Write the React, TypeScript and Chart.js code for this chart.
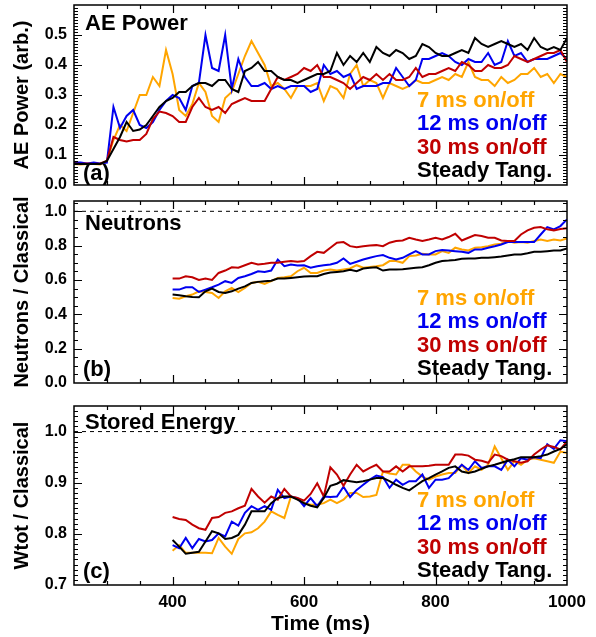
import React, { useEffect, useRef } from "react";
import { Chart, registerables } from "chart.js";

Chart.register(...registerables);

const FONT = "'Liberation Sans', Arial, Helvetica, sans-serif";
const PAGE_W = 596;
const PAGE_H = 637;
const OVER = 20;

// ---------- legend / series ----------
const seriesLabels = ["7 ms on/off", "12 ms on/off", "30 ms on/off", "Steady Tang."];
const seriesColors = ["#FFA500", "#0000F0", "#C00000", "#000000"];

// ---------- tick labels ----------
const xRange = [250, 1000];
const xTickValues = [400, 600, 800, 1000];
const aeTicks = [0, 0.1, 0.2, 0.3, 0.4, 0.5];
const neutTicks = [0, 0.2, 0.4, 0.6, 0.8, 1.0];
const wtotTicks = [0.7, 0.8, 0.9, 1.0];

// ---------- panel (a): AE power ----------
const aeTime = [
  250, 260, 270, 280, 290, 300, 310, 320, 330, 340,
  350, 360, 370, 380, 390, 400, 410, 420, 430, 440,
  450, 460, 470, 480, 490, 500, 510, 520, 530, 540,
  550, 560, 570, 580, 590, 600, 610, 620, 630, 640,
  650, 660, 670, 680, 690, 700, 710, 720, 730, 740,
  750, 760, 770, 780, 790, 800, 810, 820, 830, 840,
  850, 860, 870, 880, 890, 900, 910, 920, 930, 940,
  950, 960, 970, 980, 990, 1000,
];
const ae7 = [
  0.070, 0.068, 0.070, 0.070, 0.068, 0.080, 0.150, 0.200, 0.180, 0.240,
  0.300, 0.300, 0.360, 0.330, 0.450, 0.370, 0.250, 0.230, 0.270, 0.340,
  0.310, 0.230, 0.210, 0.290, 0.310, 0.370, 0.430, 0.480, 0.440, 0.400,
  0.330, 0.340, 0.320, 0.290, 0.330, 0.330, 0.330, 0.340, 0.280, 0.330,
  0.320, 0.290, 0.370, 0.400, 0.330, 0.350, 0.340, 0.290, 0.340, 0.330,
  0.320, 0.330, 0.350, 0.340, 0.340, 0.350, 0.360, 0.350, 0.370, 0.360,
  0.410, 0.360, 0.350, 0.350, 0.330, 0.360, 0.340, 0.350, 0.370, 0.370,
  0.390, 0.360, 0.370, 0.340, 0.370, 0.360,
];
const ae12 = [
  0.075, 0.075, 0.072, 0.075, 0.072, 0.075, 0.260, 0.190, 0.230, 0.250,
  0.200, 0.190, 0.210, 0.250, 0.280, 0.300, 0.290, 0.250, 0.330, 0.340,
  0.500, 0.390, 0.380, 0.500, 0.320, 0.420, 0.360, 0.330, 0.330, 0.340,
  0.320, 0.330, 0.320, 0.330, 0.330, 0.330, 0.310, 0.320, 0.400, 0.370,
  0.380, 0.360, 0.370, 0.320, 0.330, 0.330, 0.330, 0.340, 0.340, 0.390,
  0.360, 0.330, 0.350, 0.420, 0.420, 0.430, 0.440, 0.430, 0.410, 0.400,
  0.420, 0.410, 0.410, 0.440, 0.400, 0.410, 0.480, 0.430, 0.440, 0.410,
  0.420, 0.420, 0.420, 0.430, 0.440, 0.420,
];
const ae30 = [
  0.072, 0.070, 0.072, 0.070, 0.072, 0.080, 0.160, 0.150, 0.145, 0.150,
  0.150, 0.170, 0.220, 0.245, 0.240, 0.230, 0.210, 0.210, 0.260, 0.290,
  0.260, 0.250, 0.260, 0.240, 0.270, 0.280, 0.290, 0.280, 0.280, 0.280,
  0.320, 0.360, 0.350, 0.360, 0.370, 0.390, 0.380, 0.400, 0.360, 0.360,
  0.350, 0.340, 0.320, 0.340, 0.360, 0.350, 0.370, 0.350, 0.370, 0.350,
  0.350, 0.360, 0.390, 0.360, 0.370, 0.370, 0.380, 0.390, 0.380, 0.410,
  0.400, 0.380, 0.380, 0.400, 0.390, 0.390, 0.400, 0.430, 0.420, 0.410,
  0.420, 0.430, 0.440, 0.440, 0.450, 0.410,
];
const aeSteady = [
  0.072, 0.070, 0.070, 0.070, 0.070, 0.080, 0.120, 0.160, 0.210, 0.180,
  0.185, 0.200, 0.230, 0.260, 0.280, 0.290, 0.310, 0.310, 0.330, 0.340,
  0.340, 0.330, 0.350, 0.350, 0.320, 0.310, 0.380, 0.390, 0.410, 0.380,
  0.380, 0.360, 0.350, 0.350, 0.340, 0.350, 0.360, 0.370, 0.370, 0.380,
  0.440, 0.400, 0.430, 0.410, 0.440, 0.410, 0.460, 0.440, 0.430, 0.450,
  0.440, 0.420, 0.430, 0.470, 0.460, 0.440, 0.430, 0.430, 0.440, 0.450,
  0.440, 0.490, 0.470, 0.460, 0.470, 0.480, 0.470, 0.460, 0.470, 0.450,
  0.490, 0.460, 0.450, 0.460, 0.450, 0.490,
];

// ---------- panels (b) and (c): shared time base ----------
const profTime = [
  400, 410, 420, 430, 440, 450, 460, 470, 480, 490,
  500, 510, 520, 530, 540, 550, 560, 570, 580, 590,
  600, 610, 620, 630, 640, 650, 660, 670, 680, 690,
  700, 710, 720, 730, 740, 750, 760, 770, 780, 790,
  800, 810, 820, 830, 840, 850, 860, 870, 880, 890,
  900, 910, 920, 930, 940, 950, 960, 970, 980, 990,
  1000,
];

// panel (b): neutrons / classical
const neut7 = [
  0.495, 0.491, 0.505, 0.515, 0.534, 0.530, 0.524, 0.495, 0.534, 0.554,
  0.530, 0.554, 0.583, 0.589, 0.577, 0.593, 0.612, 0.616, 0.622, 0.651,
  0.671, 0.641, 0.641, 0.655, 0.661, 0.655, 0.661, 0.667, 0.686, 0.671,
  0.675, 0.680, 0.686, 0.710, 0.710, 0.700, 0.739, 0.743, 0.752, 0.749,
  0.749, 0.768, 0.758, 0.788, 0.778, 0.772, 0.788, 0.791, 0.797, 0.807,
  0.811, 0.827, 0.817, 0.821, 0.817, 0.827, 0.836, 0.827, 0.836, 0.830,
  0.842,
];
const neut12 = [
  0.544, 0.544, 0.558, 0.558, 0.530, 0.544, 0.558, 0.573, 0.593, 0.583,
  0.612, 0.622, 0.635, 0.651, 0.647, 0.655, 0.719, 0.680, 0.690, 0.684,
  0.686, 0.671, 0.680, 0.686, 0.690, 0.700, 0.725, 0.694, 0.706, 0.719,
  0.729, 0.739, 0.745, 0.729, 0.719, 0.729, 0.749, 0.768, 0.749, 0.749,
  0.768, 0.774, 0.772, 0.768, 0.764, 0.758, 0.778, 0.778, 0.788, 0.797,
  0.807, 0.821, 0.821, 0.821, 0.821, 0.821, 0.865, 0.908, 0.895, 0.914,
  0.953,
];
const neut30 = [
  0.608, 0.608, 0.622, 0.616, 0.600, 0.608, 0.600, 0.641, 0.655, 0.674,
  0.671, 0.686, 0.700, 0.690, 0.694, 0.700, 0.700, 0.706, 0.710, 0.706,
  0.710, 0.739, 0.764, 0.758, 0.788, 0.817, 0.821, 0.797, 0.791, 0.797,
  0.801, 0.803, 0.797, 0.817, 0.827, 0.830, 0.846, 0.836, 0.827, 0.836,
  0.846, 0.836, 0.850, 0.869, 0.830, 0.846, 0.862, 0.856, 0.846, 0.846,
  0.830, 0.827, 0.827, 0.865, 0.889, 0.904, 0.908, 0.895, 0.889, 0.897,
  0.901,
];
const neutSteady = [
  0.515, 0.511, 0.505, 0.501, 0.499, 0.534, 0.550, 0.530, 0.524, 0.534,
  0.550, 0.563, 0.583, 0.589, 0.593, 0.596, 0.608, 0.608, 0.612, 0.616,
  0.620, 0.622, 0.622, 0.635, 0.643, 0.647, 0.651, 0.659, 0.651, 0.667,
  0.671, 0.674, 0.655, 0.661, 0.661, 0.663, 0.667, 0.671, 0.674, 0.686,
  0.700, 0.710, 0.713, 0.717, 0.723, 0.725, 0.725, 0.729, 0.729, 0.733,
  0.737, 0.743, 0.749, 0.749, 0.756, 0.764, 0.764, 0.768, 0.772, 0.772,
  0.784,
];

// panel (c): Wtot / classical
const wtot7 = [
  0.767, 0.778, 0.763, 0.763, 0.763, 0.763, 0.762, 0.792, 0.775, 0.761,
  0.790, 0.801, 0.803, 0.811, 0.824, 0.844, 0.837, 0.831, 0.873, 0.868,
  0.860, 0.857, 0.857, 0.860, 0.867, 0.860, 0.867, 0.880, 0.880, 0.872,
  0.873, 0.876, 0.922, 0.918, 0.916, 0.935, 0.935, 0.922, 0.912, 0.906,
  0.912, 0.916, 0.919, 0.919, 0.935, 0.919, 0.932, 0.925, 0.935, 0.971,
  0.948, 0.925, 0.942, 0.935, 0.945, 0.948, 0.945, 0.942, 0.939, 0.961,
  0.958,
];
const wtot12 = [
  0.778, 0.772, 0.792, 0.772, 0.790, 0.785, 0.788, 0.801, 0.795, 0.824,
  0.816, 0.841, 0.854, 0.847, 0.854, 0.847, 0.886, 0.870, 0.873, 0.870,
  0.854, 0.870, 0.854, 0.873, 0.872, 0.873, 0.892, 0.872, 0.886, 0.896,
  0.906, 0.914, 0.911, 0.890, 0.906, 0.896, 0.903, 0.903, 0.916, 0.890,
  0.906, 0.906, 0.909, 0.922, 0.935, 0.925, 0.942, 0.929, 0.932, 0.932,
  0.925, 0.945, 0.932, 0.948, 0.945, 0.950, 0.948, 0.975, 0.966, 0.983,
  0.981,
];
const wtot30 = [
  0.833, 0.829, 0.827, 0.818, 0.811, 0.808, 0.831, 0.833, 0.841, 0.844,
  0.850, 0.855, 0.888, 0.873, 0.861, 0.873, 0.867, 0.888, 0.873, 0.870,
  0.865, 0.878, 0.899, 0.873, 0.930, 0.916, 0.894, 0.916, 0.935, 0.922,
  0.929, 0.935, 0.922, 0.922, 0.932, 0.922, 0.932, 0.932, 0.932, 0.933,
  0.935, 0.935, 0.935, 0.955, 0.955, 0.953, 0.945, 0.943, 0.939, 0.955,
  0.952, 0.945, 0.942, 0.939, 0.942, 0.955, 0.965, 0.973, 0.970, 0.965,
  0.981,
];
const wtotSteady = [
  0.788, 0.775, 0.761, 0.763, 0.765, 0.785, 0.805, 0.801, 0.790, 0.792,
  0.798, 0.818, 0.844, 0.844, 0.844, 0.860, 0.870, 0.873, 0.873, 0.867,
  0.860, 0.855, 0.852, 0.870, 0.894, 0.898, 0.905, 0.903, 0.901, 0.903,
  0.906, 0.909, 0.909, 0.903, 0.896, 0.890, 0.885, 0.894, 0.903, 0.909,
  0.916, 0.922, 0.929, 0.932, 0.922, 0.919, 0.922, 0.927, 0.932, 0.935,
  0.939, 0.943, 0.946, 0.950, 0.950, 0.950, 0.952, 0.955, 0.961, 0.966,
  0.975,
];

const referenceLevel = 1.0;

type Panel = {
  key: string;
  areaTop: number;
  areaBottom: number;
  xHeight: number;
  showX: boolean;
  yMin: number;
  yMax: number;
  yTicks: number[];
  minorStep: number;
  yTitle: string;
  title: string;
  titleDy: number;
  tag: string;
  tagDy: number;
  time: number[];
  series: number[][];
  refLine: boolean;
};

const panels: Panel[] = [
  {
    key: "a", areaTop: 5, areaBottom: 185, xHeight: 0, showX: false,
    yMin: 0, yMax: 0.6, yTicks: aeTicks, minorStep: 0.01,
    yTitle: "AE Power (arb.)", title: "AE Power", titleDy: 25, tag: "(a)", tagDy: 5,
    time: aeTime, series: [ae7, ae12, ae30, aeSteady], refLine: false,
  },
  {
    key: "b", areaTop: 201, areaBottom: 383, xHeight: 0, showX: false,
    yMin: 0, yMax: 1.06, yTicks: neutTicks, minorStep: 0.05,
    yTitle: "Neutrons / Classical", title: "Neutrons", titleDy: 29, tag: "(b)", tagDy: 7,
    time: profTime, series: [neut7, neut12, neut30, neutSteady], refLine: true,
  },
  {
    key: "c", areaTop: 406, areaBottom: 585, xHeight: 52, showX: true,
    yMin: 0.7, yMax: 1.05, yTicks: wtotTicks, minorStep: 0.01,
    yTitle: "Wtot / Classical", title: "Stored Energy", titleDy: 23, tag: "(c)", tagDy: 7,
    time: profTime, series: [wtot7, wtot12, wtot30, wtotSteady], refLine: true,
  },
];

const framePlugin = {
  id: "idlFrame",
  afterDatasetsDraw(chart: any, _args: any, opts: any) {
    const { ctx, chartArea } = chart;
    const { left, right, top, bottom } = chartArea;
    const xs = chart.scales.x;
    const ys = chart.scales.y;
    ctx.save();
    ctx.strokeStyle = "#000";
    ctx.lineWidth = 1.2;
    ctx.beginPath();
    const ny = Math.round((opts.yMax - opts.yMin) / opts.minorStep);
    for (let i = 0; i <= ny; i++) {
      const v = opts.yMin + i * opts.minorStep;
      const major = opts.yTicks.some((m: number) => Math.abs(m - v) < 1e-6);
      const len = major ? 8 : 4;
      const p = Math.round(ys.getPixelForValue(v)) + 0.5;
      if (p <= top + 1 || p >= bottom - 1) continue;
      ctx.moveTo(left, p);
      ctx.lineTo(left + len, p);
      ctx.moveTo(right, p);
      ctx.lineTo(right - len, p);
    }
    const xStep = 50;
    const nx = Math.round((xRange[1] - xRange[0]) / xStep);
    for (let i = 0; i <= nx; i++) {
      const v = xRange[0] + i * xStep;
      const major = xTickValues.includes(v);
      const len = major ? 8 : 4;
      const p = Math.round(xs.getPixelForValue(v)) + 0.5;
      if (p <= left + 1 || p >= right - 1) continue;
      ctx.moveTo(p, bottom);
      ctx.lineTo(p, bottom - len);
      ctx.moveTo(p, top);
      ctx.lineTo(p, top + len);
    }
    ctx.stroke();
    ctx.lineWidth = 1.5;
    ctx.strokeRect(left, top, right - left, bottom - top);

    ctx.font = `bold 22px ${FONT}`;
    ctx.textAlign = "left";
    ctx.textBaseline = "alphabetic";
    ctx.fillStyle = "#000";
    ctx.fillText(opts.title, left + 11, top + opts.titleDy);
    ctx.fillText(opts.tag, left + 9, bottom - opts.tagDy);
    const ds = chart.data.datasets.filter((d: any) => !d.isRef);
    ds.forEach((d: any, i: number) => {
      ctx.fillStyle = d.borderColor;
      ctx.fillText(d.label, left + 343, bottom - 8 - 23.3 * (ds.length - 1 - i));
    });
    ctx.restore();
  },
};

function buildConfig(p: Panel): any {
  const canvasH = PAGE_H + 2 * OVER;
  const padTop = p.areaTop + OVER;
  const padBottom = canvasH - (p.areaBottom + OVER) - p.xHeight;
  const datasets: any[] = p.series.map((vals, i) => ({
    label: seriesLabels[i],
    data: p.time.map((t, j) => ({ x: t, y: vals[j] })),
    borderColor: seriesColors[i],
    backgroundColor: seriesColors[i],
    borderWidth: 2,
    pointRadius: 0,
    fill: false,
    tension: 0,
    order: 3 - i,
  }));
  if (p.refLine) {
    datasets.push({
      label: "",
      isRef: true,
      data: [
        { x: xRange[0], y: referenceLevel },
        { x: xRange[1], y: referenceLevel },
      ],
      borderColor: "#000",
      borderWidth: 1,
      borderDash: [4, 4],
      pointRadius: 0,
      fill: false,
      order: 10,
    });
  }
  return {
    type: "line",
    data: { datasets },
    plugins: [framePlugin],
    options: {
      animation: false,
      responsive: false,
      maintainAspectRatio: false,
      devicePixelRatio: 1,
      layout: { padding: { left: 0, right: PAGE_W - 567, top: padTop, bottom: padBottom } },
      plugins: {
        legend: { display: false },
        tooltip: { enabled: false },
        idlFrame: {
          yMin: p.yMin, yMax: p.yMax, yTicks: p.yTicks, minorStep: p.minorStep,
          title: p.title, titleDy: p.titleDy, tag: p.tag, tagDy: p.tagDy,
        },
      },
      scales: {
        x: {
          type: "linear",
          min: xRange[0],
          max: xRange[1],
          grid: { display: false, drawTicks: false },
          border: { display: false },
          afterBuildTicks: (s: any) => {
            s.ticks = xTickValues.map((v) => ({ value: v }));
          },
          afterFit: (s: any) => {
            s.height = p.xHeight;
          },
          ticks: {
            display: p.showX,
            color: "#000",
            font: { family: FONT, size: 17, weight: "bold" },
            padding: 7,
            maxRotation: 0,
            autoSkip: false,
            callback: (v: any) => String(v),
          },
          title: {
            display: p.showX,
            text: "Time (ms)",
            color: "#000",
            font: { family: FONT, size: 21, weight: "bold" },
            padding: { top: 0, bottom: 0 },
          },
        },
        y: {
          type: "linear",
          min: p.yMin,
          max: p.yMax,
          grid: { display: false, drawTicks: false },
          border: { display: false },
          afterBuildTicks: (s: any) => {
            s.ticks = p.yTicks.map((v) => ({ value: v }));
          },
          afterFit: (s: any) => {
            s.width = 74;
          },
          ticks: {
            color: "#000",
            font: { family: FONT, size: 16, weight: "bold" },
            padding: 7,
            callback: (v: any) => Number(v).toFixed(1),
          },
          title: {
            display: true,
            text: p.yTitle,
            color: "#000",
            font: { family: FONT, size: 20, weight: "bold" },
            padding: { top: 10, bottom: 0 },
          },
        },
      },
    },
  };
}

export default function App() {
  const r0 = useRef<HTMLCanvasElement>(null);
  const r1 = useRef<HTMLCanvasElement>(null);
  const r2 = useRef<HTMLCanvasElement>(null);
  const refs = [r0, r1, r2];

  useEffect(() => {
    const charts = panels.map((p, i) => new Chart(refs[i].current as HTMLCanvasElement, buildConfig(p)));
    return () => charts.forEach((c) => c.destroy());
  }, []);

  const canvasH = PAGE_H + 2 * OVER;
  return (
    <div
      style={{
        position: "fixed",
        left: 0,
        top: 0,
        width: PAGE_W,
        height: PAGE_H,
        overflow: "hidden",
        background: "#fff",
      }}
    >
      {panels.map((p, i) => (
        <canvas
          key={p.key}
          ref={refs[i]}
          width={PAGE_W}
          height={canvasH}
          style={{
            position: "absolute",
            left: 0,
            top: -OVER,
            width: PAGE_W,
            height: canvasH,
            display: "block",
          }}
        />
      ))}
    </div>
  );
}
